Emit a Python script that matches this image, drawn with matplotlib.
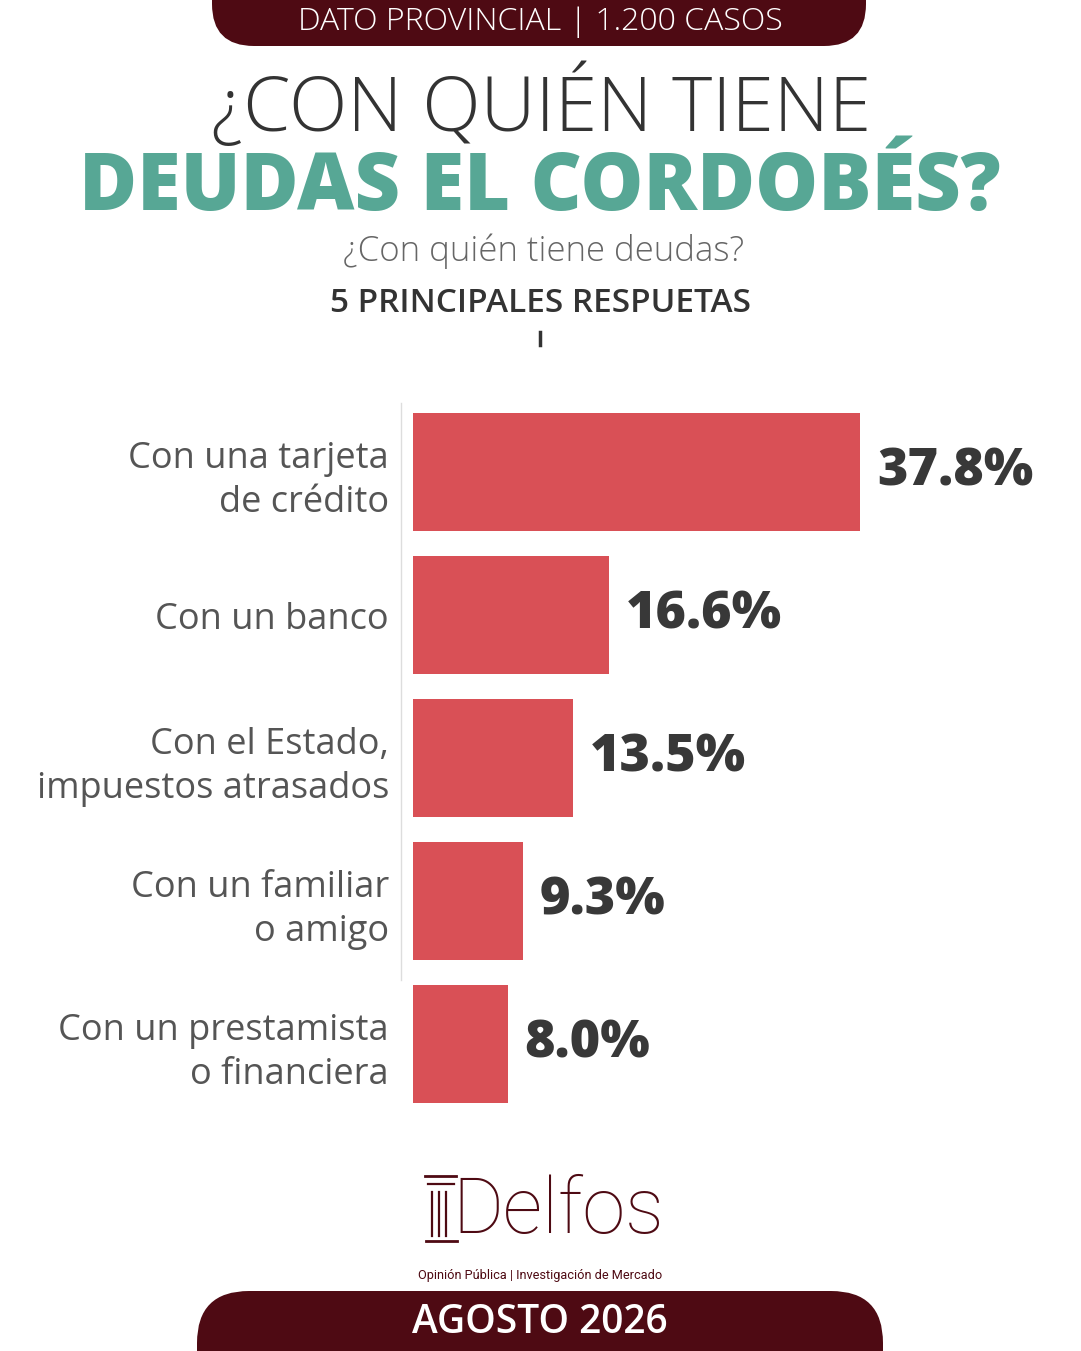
import matplotlib
matplotlib.use("Agg")
import matplotlib.pyplot as plt
from matplotlib.patches import FancyBboxPatch

# datos
categorias = ["Con una tarjeta\nde crédito", "Con un banco",
              "Con el Estado,\nimpuestos atrasados", "Con un familiar\no amigo",
              "Con un prestamista\no financiera"]
valores = [37.8, 16.6, 13.5, 9.3, 8.0]
etiquetas = ["37.8%", "16.6%", "13.5%", "9.3%", "8.0%"]

banner_top = "DATO PROVINCIAL | 1.200 CASOS"
titulo1 = "¿CON QUIÉN TIENE"
titulo2 = "DEUDAS EL CORDOBÉS?"
pregunta = "¿Con quién tiene deudas?"
subtitulo = "5 PRINCIPALES RESPUETAS"
fecha = "AGOSTO 2026"
marca = "Delfos"
marca_sub = "Opinión Pública | Investigación de Mercado"

MARRON = "#4e0a13"
ROJO = "#d95056"
VERDE = "#57a795"
GRIS = "#555555"
OSCURO = "#383838"

plt.rcParams["font.family"] = ["Open Sans", "DejaVu Sans"]
ROBOTO = ["Roboto", "DejaVu Sans"]

W, H = 1081, 1351
fig = plt.figure(figsize=(W / 100, H / 100), dpi=100)
fig.patch.set_facecolor("white")

# capa de fondo en pixeles
bg = fig.add_axes([0, 0, 1, 1])
bg.set_xlim(0, W)
bg.set_ylim(H, 0)
bg.axis("off")

bg.add_patch(FancyBboxPatch((212, -80), 654, 126, boxstyle="round,pad=0,rounding_size=42",
                            fc=MARRON, ec="none"))
bg.add_patch(FancyBboxPatch((197, 1291), 686, 140, boxstyle="round,pad=0,rounding_size=52",
                            fc=MARRON, ec="none"))

bg.text(540, 22, banner_top, color="white", fontsize=23, fontweight="light",
        ha="center", va="center")
bg.text(541, 106, titulo1, color="#333333", fontsize=55, fontweight="light",
        ha="center", va="center")
bg.text(540, 189, titulo2, color=VERDE, fontsize=57, fontweight="heavy",
        ha="center", va="center")
bg.text(544, 251, pregunta, color="#666666", fontsize=25, fontweight="light",
        ha="center", va="center")
bg.text(540, 303, subtitulo, color="#333333", fontsize=24, fontweight="semibold",
        ha="center", va="center")
bg.plot([540, 540], [332, 345], color="#333333", lw=2.5)

bg.text(540, 1323, fecha, color="white", fontsize=28, fontweight="semibold",
        ha="center", va="center")

# logo
bg.text(452, 1212, marca, color=MARRON, fontsize=56, fontweight="light",
        family=ROBOTO, ha="left", va="center")
for xl in (432, 439, 446):
    bg.plot([xl, xl], [1192, 1236], color=MARRON, lw=1.6)
bg.plot([425, 456], [1176, 1176], color=MARRON, lw=2)
bg.plot([428, 454], [1184, 1184], color=MARRON, lw=1.6)
bg.plot([426, 457], [1241, 1241], color=MARRON, lw=2)
bg.text(540, 1276, marca_sub, color=MARRON, fontsize=9.2, family=ROBOTO,
        ha="center", va="center")

# grafico de barras
ax = fig.add_axes([413 / W, 1 - 1116 / H, 668 / W, (1116 - 400.5) / H])
ypos = list(range(len(valores)))
bars = ax.barh(ypos, valores, height=0.825, color=ROJO)
ax.set_xlim(0, 668 / 11.83)
ax.set_ylim(4.5, -0.5)
for s in ("top", "right", "bottom"):
    ax.spines[s].set_visible(False)
ax.spines["left"].set_position(("outward", 8.6))
ax.spines["left"].set_bounds(-0.48, 3.55)
ax.spines["left"].set_color("#dddddd")
ax.spines["left"].set_linewidth(1)
ax.set_yticks(ypos)
ax.set_yticklabels(categorias, fontsize=26, color=GRIS, linespacing=1.3)
ax.tick_params(axis="y", length=0, pad=8.6)
ax.tick_params(axis="x", bottom=False, labelbottom=False)
ax.bar_label(bars, labels=etiquetas, padding=12, fontsize=37.5, fontweight="heavy",
             color=OSCURO)

fig.savefig("out.png", dpi=100)
